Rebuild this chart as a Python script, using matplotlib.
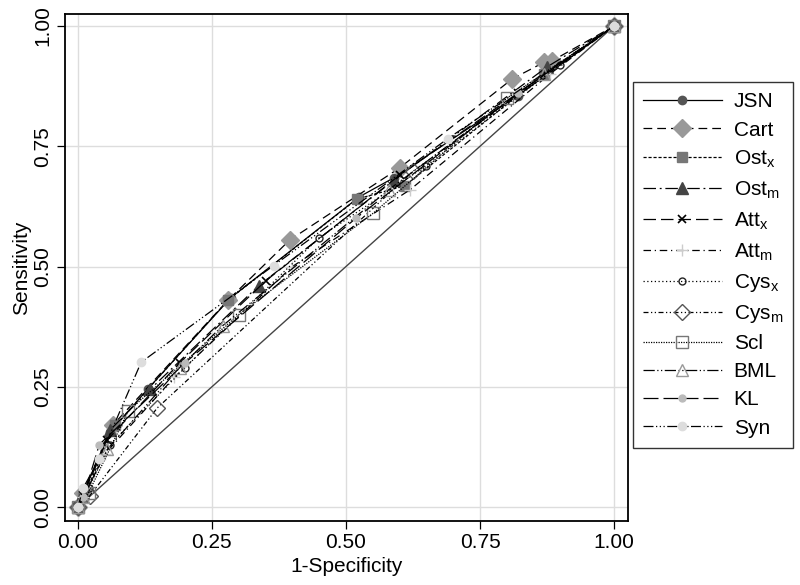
import matplotlib
matplotlib.use("Agg")
import matplotlib.pyplot as plt

plt.rcParams['font.family'] = ['Liberation Sans', 'DejaVu Sans']

names = ['JSN', 'Cart', r'Ost$_\mathregular{x}$', r'Ost$_\mathregular{m}$', r'Att$_\mathregular{x}$',
         r'Att$_\mathregular{m}$', r'Cys$_\mathregular{x}$', r'Cys$_\mathregular{m}$', 'Scl', 'BML', 'KL', 'Syn']

fpr = [
    [0, 0.01, 0.06, 0.13, 0.285, 0.525, 0.59, 0.82, 1],
    [0, 0.01, 0.065, 0.28, 0.395, 0.60, 0.81, 0.87, 0.885, 1],
    [0, 0.01, 0.07, 0.28, 0.52, 0.61, 0.87, 1],
    [0, 0.01, 0.06, 0.135, 0.337, 0.59, 0.875, 1],
    [0, 0.01, 0.055, 0.19, 0.35, 0.60, 0.82, 1],
    [0, 0.01, 0.05, 0.18, 0.40, 0.62, 0.88, 1],
    [0, 0.02, 0.06, 0.20, 0.45, 0.65, 0.90, 1],
    [0, 0.022, 0.148, 0.625, 1],
    [0, 0.02, 0.094, 0.30, 0.551, 0.80, 1],
    [0, 0.01, 0.055, 0.19, 0.27, 0.58, 0.87, 1],
    [0, 0.01, 0.04, 0.20, 0.518, 0.82, 1],
    [0, 0.01, 0.04, 0.118, 0.365, 0.69, 1],
]
tpr = [
    [0, 0.03, 0.155, 0.245, 0.435, 0.645, 0.685, 0.855, 1],
    [0, 0.03, 0.17, 0.43, 0.555, 0.705, 0.89, 0.925, 0.928, 1],
    [0, 0.02, 0.17, 0.43, 0.64, 0.668, 0.90, 1],
    [0, 0.03, 0.16, 0.245, 0.46, 0.68, 0.915, 1],
    [0, 0.025, 0.14, 0.30, 0.47, 0.69, 0.86, 1],
    [0, 0.02, 0.11, 0.27, 0.50, 0.66, 0.90, 1],
    [0, 0.04, 0.13, 0.29, 0.56, 0.71, 0.92, 1],
    [0, 0.023, 0.206, 0.698, 1],
    [0, 0.03, 0.20, 0.40, 0.611, 0.85, 1],
    [0, 0.02, 0.12, 0.29, 0.377, 0.66, 0.90, 1],
    [0, 0.02, 0.13, 0.30, 0.60, 0.86, 1],
    [0, 0.04, 0.10, 0.301, 0.502, 0.766, 1],
]
ticks = [0.00, 0.25, 0.50, 0.75, 1.00]
tick_labels = ['0.00', '0.25', '0.50', '0.75', '1.00']

styles = [
    dict(ls='-', marker='o', mfc='#555555', mec='#555555', ms=6),
    dict(ls=(0, (7, 4)), marker='D', mfc='#999999', mec='#999999', ms=9),
    dict(ls=(0, (2.5, 1.5)), marker='s', mfc='#777777', mec='#777777', ms=7),
    dict(ls=(0, (10, 3, 1.5, 3)), marker='^', mfc='#444444', mec='#444444', ms=8),
    dict(ls=(0, (10, 4)), marker='x', mfc='black', mec='black', ms=6, mew=1.2),
    dict(ls=(0, (6, 3, 1, 3)), marker='+', mfc='#cccccc', mec='#cccccc', ms=9),
    dict(ls=(0, (1, 2)), marker='o', mfc='none', mec='#222222', ms=5),
    dict(ls=(0, (4, 2, 1, 2, 1, 2)), marker='D', mfc='none', mec='#555555', ms=8),
    dict(ls=(0, (1, 1)), marker='s', mfc='none', mec='#777777', ms=8),
    dict(ls=(0, (9, 2, 1, 2, 1, 2)), marker='^', mfc='none', mec='#999999', ms=8),
    dict(ls=(0, (12, 4)), marker='o', mfc='#bbbbbb', mec='#bbbbbb', ms=5),
    dict(ls=(0, (8, 2, 1, 2, 1, 2, 1, 2)), marker='o', mfc='#dddddd', mec='#dddddd', ms=6),
]

fig = plt.figure(figsize=(8, 5.85), dpi=100)
ax = fig.add_axes([65/800, 1-521/585, (628-65)/800, (521-14)/585])

ax.plot([0, 1], [0, 1], color='#444444', lw=1.0, zorder=1)
handles = []
for name, x, y, st in zip(names, fpr, tpr, styles):
    h, = ax.plot(x, y, color='black', lw=0.9, label=name, zorder=2, **st)
    handles.append(h)

ax.set_xlim(-0.024, 1.026)
ax.set_ylim(-0.029, 1.025)
ax.set_xticks(ticks)
ax.set_xticklabels(tick_labels)
ax.set_yticks(ticks)
ax.set_yticklabels(tick_labels, rotation=90, va='center')
ax.grid(True, color='#dddddd', lw=1)
ax.set_axisbelow(True)
ax.tick_params(labelsize=15, length=6, width=0.9, colors='black', pad=3)
for s in ax.spines.values():
    s.set_linewidth(1.3)
ax.set_xlabel('1-Specificity', fontsize=15, labelpad=3)
ax.set_ylabel('Sensitivity', fontsize=15, labelpad=2)

leg = fig.legend(handles=handles, loc='upper left', bbox_to_anchor=(633/800, 1-82/585),
                 fontsize=15, frameon=True, fancybox=False, edgecolor='black',
                 handlelength=3.75, labelspacing=0.44, borderpad=0.5, handletextpad=0.58,
                 borderaxespad=0)
leg.get_frame().set_linewidth(1.0)

fig.savefig('out.png', dpi=100)
